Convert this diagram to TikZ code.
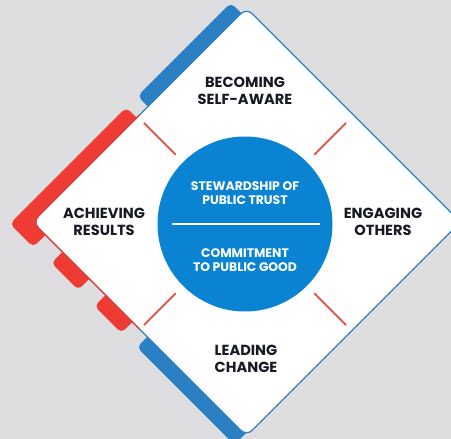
\documentclass[tikz,border=0pt]{standalone}
\usepackage{fontspec}
\setmainfont{Poppins}
\definecolor{bgc}{HTML}{DEDDE0}
\definecolor{bandblue}{HTML}{2A80C3}
\definecolor{edgeblue}{HTML}{2F82C6}
\definecolor{bandred}{HTML}{EE3B33}
\definecolor{corec}{HTML}{0A84D2}
\definecolor{inkc}{HTML}{171A24}
\tikzset{
  band/.style={rounded corners=5},
  label/.style={align=center, text=inkc, font=\fontsize{14.6}{17}\selectfont\bfseries, inner sep=0pt},
  corelabel/.style={align=center, text=white, font=\fontsize{12.4}{14}\selectfont\bfseries, inner sep=0pt},
  tick/.style={bandred, line width=1.5pt},
}
\begin{document}
\begin{tikzpicture}[x=1pt,y=1pt]
\fill[bgc] (0,0) rectangle (451,-439);
\useasboundingbox (0,0) rectangle (451,-439);
\clip (0,0) rectangle (451,-439);
\begin{scope}[shift={(246.5,-222)}, rotate=45]
  \fill[bandblue, band] (12,140) rectangle (144,166);
  \fill[bandred, band] (-168.5,133) rectangle (-4,166);
  \fill[bandred, band] (-167,71) rectangle (-140,109);
  \fill[bandred, band] (-167,10) rectangle (-140,48);
  \fill[bandblue, band] (-166,-149) rectangle (-140,-11);
  \draw[edgeblue, line width=1.3pt, fill=white, rounded corners=8] (-151.3,-151.3) rectangle (151.3,151.3);
  \draw[bandred, line width=1.3pt, rounded corners=8] (0,151.3) -- (-151.3,151.3) -- (-151.3,0);
\end{scope}
\node[circle, fill=corec, minimum size=175pt, inner sep=0pt] (core) at (245,-224) {};
\draw[white, line width=2.2pt] ([xshift=-73pt]core.center) -- ([xshift=75pt]core.center);
\foreach \a in {45,135,225,315}
  \draw[tick] (core.center) ++(\a:98) -- ++(\a:45);
\node[label] (aware) at (245,-90.5) {BECOMING\\SELF-AWARE};
\node[label] (results) at (104,-221.5) {ACHIEVING\\RESULTS};
\node[label] (others) at (383,-221.5) {ENGAGING\\OTHERS};
\node[label] (change) at (246,-358.5) {LEADING\\CHANGE};
\node[corelabel] (trust) at (245,-193) {STEWARDSHIP OF\\PUBLIC TRUST};
\node[corelabel] (good) at (245,-260) {COMMITMENT\\TO PUBLIC GOOD};
\end{tikzpicture}
\end{document}
